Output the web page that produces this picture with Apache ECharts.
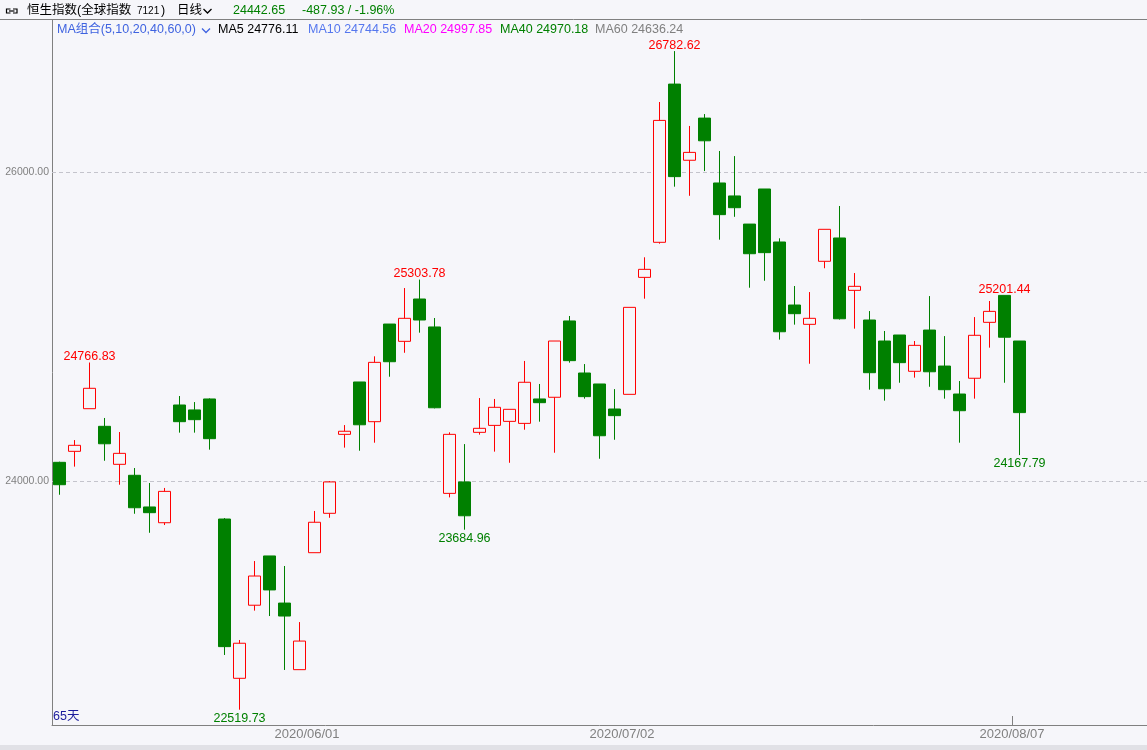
<!DOCTYPE html>
<html>
<head>
<meta charset="utf-8">
<script src="https://cdn.jsdelivr.net/npm/echarts@6/dist/echarts.min.js"></script>
<style>
html,body{margin:0;padding:0;background:#f6f6fa;}
#chart{width:1147px;height:750px;}
</style>
</head>
<body>
<div id="chart"></div>
<script>
// ---- data ----
var categories = ['2020/05/07','2020/05/08','2020/05/11','2020/05/12','2020/05/13','2020/05/14','2020/05/15','2020/05/18','2020/05/19','2020/05/20','2020/05/21','2020/05/22','2020/05/25','2020/05/26','2020/05/27','2020/05/28','2020/05/29',
'2020/06/01','2020/06/02','2020/06/03','2020/06/04','2020/06/05','2020/06/08','2020/06/09','2020/06/10','2020/06/11','2020/06/12','2020/06/15','2020/06/16','2020/06/17','2020/06/18','2020/06/19','2020/06/22','2020/06/23','2020/06/24','2020/06/26','2020/06/29','2020/06/30',
'2020/07/02','2020/07/03','2020/07/06','2020/07/07','2020/07/08','2020/07/09','2020/07/10','2020/07/13','2020/07/14','2020/07/15','2020/07/16','2020/07/17','2020/07/20','2020/07/21','2020/07/22','2020/07/23','2020/07/24','2020/07/27','2020/07/28','2020/07/29','2020/07/30','2020/07/31',
'2020/08/03','2020/08/04','2020/08/05','2020/08/06','2020/08/07'];
var opens  = [24121,24192,24468,24354,24108,24037,23832,23730,24492,24460,24531,23754,22723,23196,23515,23210,22779,23536,23791,24302,24641,24384,25016,24904,25178,24997,23920,23994,24315,24360,24386,24373,24531,24542,25036,24699,24628,24466,24561,25318,25545,26569,26076,26349,25929,25845,25663,25890,25547,25139,25014,25422,25573,25234,25042,24906,24945,24710,24977,24744,24563,24665,25027,25201.44,24906];
var closes = [23976,24231,24600,24241,24179,23827,23795,23933,24384,24397,24274,22928,22950,23385,23295,23126,22964,23733,23994,24322,24364,24768,24772,25053,25042,24474,24302,23775,24341,24477,24464,24639,24507,24906,24779,24546,24293,24423,25124,25370,26334,25970,26127,26202,25724,25769,25471,25478,24966,25083,25053,25629,25050,25260,24701,24597,24766,24878,24707,24591,24455,24943,25098,24930.58,24442.65];
var lows   = [23911,24093,24468,24131,23976,23788,23665,23715,24313,24313,24203,22874,22519.73,23161,23126,22777,22779,23536,23762,24216,24196,24248,24675,24830,24960,24470,23894,23684.96,24300,24190,24118,24332,24384,24183,24766,24533,24144,24267,24561,25180,25536,25905,25846,26006,25562,25710,25251,25296,24915,25012,24759,25377,25045,24986,24591,24520,24636,24669,24610,24533,24248,24533,24863,24636,24167.79];
var highs  = [24125,24265,24766.83,24408,24317,24084,23987,23955,24550,24511,24535,23760,22971,23482,23515,23450,23087,23806,24000,24362,24641,24807,25016,25249,25303.78,25055,24315,24239,24537,24531,24464,24777,24628,24906,25068,24757,24628,24595,25124,25448,26453,26782.62,26298,26375,26136,26103,25663,25890,25571,25262,25223,25629,25780,25346,25100,24971,24945,24906,25197,24938,24647,25061,25165,25201.44,24906];
var highMarkIdx = [2, 24, 41, 63];
var lowMarkIdx  = [12, 27, 64];
var yTickValues = [24000, 26000];
var labelDates = ['2020/06/01', '2020/07/02', '2020/08/07'];
var tickDates = ['2020/08/07'];
var emptySlots = 8;
var maNames  = ['MA5', 'MA10', 'MA20', 'MA40', 'MA60'];
var maValues = [24776.11, 24744.56, 24997.85, 24970.18, 24636.24];
var lastClose = 24442.65, lastChange = -487.93, lastPct = -1.96;
var dayCount = 65;

// ---- build ----
var FONT = "'Liberation Sans','Noto Sans CJK SC',sans-serif";
var GREEN = '#008000', RED = '#ff0000', BG = '#f6f6fa';
var cats = categories.concat(new Array(emptySlots).fill(''));
var kdata = categories.map(function (c, i) { return [opens[i], closes[i], lows[i], highs[i]]; });

var markData = [];
highMarkIdx.forEach(function (i) {
  markData.push({ coord: [categories[i], highs[i]], value: highs[i],
    label: { position: 'top', distance: -1, color: RED, formatter: highs[i].toFixed(2) } });
});
lowMarkIdx.forEach(function (i) {
  markData.push({ coord: [categories[i], lows[i]], value: lows[i],
    label: { position: 'bottom', distance: 2, color: GREEN, formatter: lows[i].toFixed(2) } });
});

var maColors = ['#000000', '#5577ee', '#ff00ff', GREEN, '#808080'];
var maX = [218, 308, 404, 500, 595];
var LEG_BLUE = '#3f63e0';

var graphics = [
  { type: 'rect', shape: { x: 0, y: 745, width: 1147, height: 5 }, style: { fill: '#e1e1e6' }, silent: true },
  { type: 'line', shape: { x1: 0, y1: 19.5, x2: 1147, y2: 19.5 }, style: { stroke: '#808080', lineWidth: 1 }, silent: true },
  // link icon
  { type: 'polyline', shape: { points: [[10.5, 9], [6.5, 9], [6.5, 13], [10.5, 13]] }, style: { fill: 'none', stroke: '#000', lineWidth: 1.2 } },
  { type: 'polyline', shape: { points: [[13, 9], [17, 9], [17, 13], [13, 13]] }, style: { fill: 'none', stroke: '#000', lineWidth: 1.2 } },
  { type: 'line', shape: { x1: 9, y1: 11, x2: 14.5, y2: 11 }, style: { stroke: '#000', lineWidth: 1.2 } },
  { type: 'text', x: 27, y: 11, style: { text: '恒生指数(全球指数', fontSize: 12.5, fontFamily: FONT, fill: '#000', verticalAlign: 'middle' } },
  { type: 'text', x: 137, y: 11.5, style: { text: '7121', fontSize: 10, fontFamily: FONT, fill: '#000', verticalAlign: 'middle' } },
  { type: 'text', x: 161, y: 11, style: { text: ')', fontSize: 12.5, fontFamily: FONT, fill: '#000', verticalAlign: 'middle' } },
  { type: 'text', x: 177, y: 11, style: { text: '日线', fontSize: 12.5, fontFamily: FONT, fill: '#000', verticalAlign: 'middle' } },
  { type: 'polyline', shape: { points: [[203.5, 9], [207.5, 13], [211.5, 9]] }, style: { fill: 'none', stroke: '#000', lineWidth: 1.3 } },
  { type: 'text', x: 233, y: 11, style: { text: lastClose.toFixed(2), fontSize: 12.5, fontFamily: FONT, fill: GREEN, verticalAlign: 'middle' } },
  { type: 'text', x: 302, y: 11, style: { text: lastChange.toFixed(2) + ' / ' + lastPct.toFixed(2) + '%', fontSize: 12.5, fontFamily: FONT, fill: GREEN, verticalAlign: 'middle' } },
  { type: 'text', x: 57, y: 30, style: { text: 'MA组合(5,10,20,40,60,0)', fontSize: 12.5, fontFamily: FONT, fill: LEG_BLUE, verticalAlign: 'middle' } },
  { type: 'polyline', shape: { points: [[202, 28.5], [206, 32.5], [210, 28.5]] }, style: { fill: 'none', stroke: LEG_BLUE, lineWidth: 1.3 } },
  { type: 'text', x: 53, y: 717, style: { text: dayCount + '天', fontSize: 12.5, fontFamily: FONT, fill: '#1c1c9c', verticalAlign: 'middle' } }
];
maNames.forEach(function (n, i) {
  graphics.push({ type: 'text', x: maX[i], y: 30, style: { text: n + ' ' + maValues[i].toFixed(2), fontSize: 12.5, fontFamily: FONT, fill: maColors[i], verticalAlign: 'middle' } });
});

var option = {
  backgroundColor: BG,
  animation: false,
  grid: { left: 52, right: 0, top: 20, bottom: 25, containLabel: false },
  xAxis: {
    type: 'category',
    data: cats,
    boundaryGap: true,
    axisLine: { show: true, lineStyle: { color: '#808080', width: 1 } },
    axisTick: {
      show: true, inside: true, length: 9, alignWithLabel: false,
      // index 0 coincides with the y axis line; needed so ticks land on band boundaries
      interval: function (idx, val) { return idx === 0 || tickDates.indexOf(val) >= 0; },
      lineStyle: { color: '#808080' }
    },
    axisLabel: {
      show: true, color: '#808080', fontSize: 13, fontFamily: FONT, margin: 3,
      padding: [0, 15, 0, 0],
      interval: function (idx, val) { return labelDates.indexOf(val) >= 0; }
    },
    splitLine: { show: false }
  },
  yAxis: {
    type: 'value',
    min: 22420.8,
    max: 26983.8,
    axisLine: { show: true, lineStyle: { color: '#808080', width: 1 } },
    axisTick: { show: false },
    axisLabel: { show: false },
    splitLine: { show: false }
  },
  series: [{
    type: 'candlestick',
    data: kdata,
    barWidth: 12,
    z: 3,
    itemStyle: { color: BG, color0: GREEN, borderColor: RED, borderColor0: GREEN, borderWidth: 1 },
    markLine: {
      z: 1,
      silent: true,
      symbol: ['none', 'none'],
      lineStyle: { color: '#c4c4cc', type: [4, 3], width: 1 },
      label: { show: true, position: 'start', distance: 3, color: '#808080', fontSize: 10.5, fontFamily: FONT,
        formatter: function (p) { return Number(p.value).toFixed(2); } },
      data: yTickValues.map(function (v) { return { yAxis: v }; })
    },
    markPoint: {
      symbol: 'rect',
      symbolSize: 1,
      silent: true,
      itemStyle: { color: 'rgba(0,0,0,0)' },
      label: { show: true, fontSize: 12.5, fontFamily: FONT },
      data: markData
    }
  }],
  graphic: graphics
};

var chart = echarts.init(document.getElementById('chart'), null, { renderer: 'canvas' });
chart.setOption(option);
</script>
</body>
</html>
